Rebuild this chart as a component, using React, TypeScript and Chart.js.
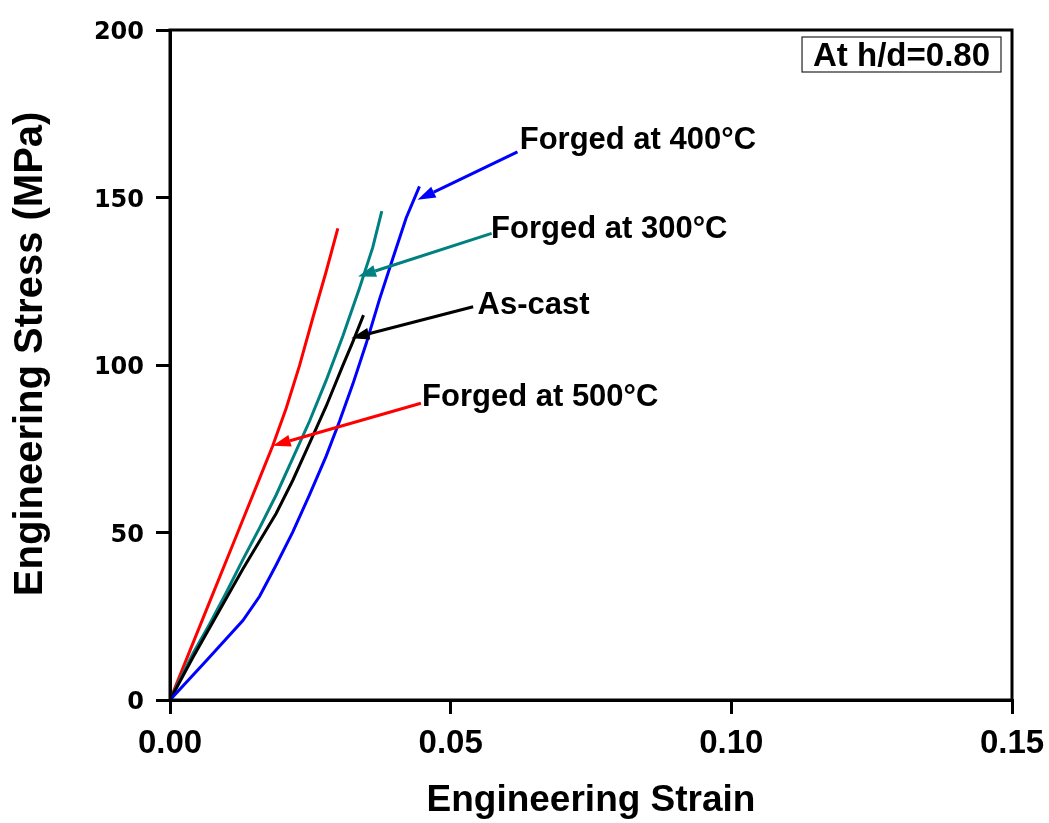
import React, { useEffect, useRef } from 'react';
import { Chart, registerables } from 'chart.js';

Chart.register(...registerables);

// ---- Data ----
const xTickValues = [0, 0.05, 0.1, 0.15];
const yTickValues = [0, 50, 100, 150, 200];

const forged500Strain = [0, 0.00407, 0.00704, 0.01001, 0.01298, 0.01594, 0.0183, 0.0207, 0.02307, 0.02545, 0.02782, 0.0299];
const forged500Stress = [0, 16.9, 29.2, 41.5, 53.8, 66.1, 75.9, 87.1, 99.8, 114.1, 127.9, 140.8];

const forged300Strain = [0, 0.00407, 0.00704, 0.01001, 0.01298, 0.01594, 0.01891, 0.02188, 0.02485, 0.02782, 0.03078, 0.03375, 0.03612, 0.03773];
const forged300Stress = [0, 13.8, 22.6, 32.0, 41.9, 51.3, 61.2, 72.2, 83.2, 95.4, 108.6, 122.9, 135.1, 145.9];

const asCastStrain = [0, 0.00407, 0.00704, 0.01001, 0.01298, 0.01594, 0.01891, 0.02188, 0.02485, 0.02782, 0.03078, 0.03257, 0.03447];
const asCastStress = [0, 12.7, 21.5, 30.3, 39.1, 47.4, 55.7, 65.6, 76.6, 87.7, 99.8, 106.9, 114.9];

const forged400Strain = [0, 0.0065, 0.01298, 0.01594, 0.01891, 0.02188, 0.02485, 0.02782, 0.0302, 0.03257, 0.03495, 0.03732, 0.03969, 0.04207, 0.04444];
const forged400Stress = [0, 11.8, 23.7, 30.9, 40.3, 50.2, 61.2, 72.8, 83.2, 94.3, 106.4, 119.6, 131.8, 143.9, 153.3];

// annotation labels: text, colour, label anchor (strain, stress), arrow start, arrow tip
const labelTexts = ['Forged at 400\u00B0C', 'Forged at 300\u00B0C', 'As-cast', 'Forged at 500\u00B0C'];
const labelColors = ['#0000FF', '#008080', '#000000', '#FF0000'];
const labelAnchorStrain = [0.0623, 0.0572, 0.0548, 0.0449];
const labelAnchorStress = [164.5, 137.9, 115.2, 87.8];
const arrowStartStrain = [0.0619, 0.0573, 0.054, 0.0447];
const arrowStartStress = [163.6, 139.3, 117.4, 88.6];
const arrowTipStrain = [0.0441, 0.0335, 0.0323, 0.0183];
const arrowTipStress = [149.3, 126.4, 108.0, 75.9];

const boxText = 'At h/d=0.80';

const FONT = "'Liberation Sans', Arial, sans-serif";
const WIDE_FONT = "'DejaVu Sans', Verdana, sans-serif";

function toPoints(xs: number[], ys: number[]) {
  return xs.map((v, i) => ({ x: v, y: ys[i] }));
}

const annotationPlugin = {
  id: 'annotationPlugin',
  afterDraw(chart: any) {
    const { ctx, chartArea, scales } = chart;
    const xs = scales.x;
    const ys = scales.y;
    ctx.save();
    // frame
    ctx.strokeStyle = '#000';
    ctx.lineWidth = 3;
    ctx.strokeRect(chartArea.left, chartArea.top, chartArea.right - chartArea.left, chartArea.bottom - chartArea.top);

    // arrows + labels
    for (let i = 0; i < labelTexts.length; i++) {
      const sx = xs.getPixelForValue(arrowStartStrain[i]);
      const sy = ys.getPixelForValue(arrowStartStress[i]);
      const tx = xs.getPixelForValue(arrowTipStrain[i]);
      const ty = ys.getPixelForValue(arrowTipStress[i]);
      const ang = Math.atan2(ty - sy, tx - sx);
      const headLen = 18;
      const headHalf = 6;
      const bx = tx - headLen * Math.cos(ang);
      const by = ty - headLen * Math.sin(ang);
      ctx.strokeStyle = labelColors[i];
      ctx.fillStyle = labelColors[i];
      ctx.lineWidth = 3;
      ctx.beginPath();
      ctx.moveTo(sx, sy);
      ctx.lineTo(bx, by);
      ctx.stroke();
      ctx.beginPath();
      ctx.moveTo(tx, ty);
      ctx.lineTo(bx + headHalf * Math.sin(ang), by - headHalf * Math.cos(ang));
      ctx.lineTo(bx - headHalf * Math.sin(ang), by + headHalf * Math.cos(ang));
      ctx.closePath();
      ctx.fill();

      ctx.fillStyle = '#000';
      ctx.font = `bold 31px ${FONT}`;
      ctx.textAlign = 'left';
      ctx.textBaseline = 'alphabetic';
      ctx.fillText(labelTexts[i], xs.getPixelForValue(labelAnchorStrain[i]), ys.getPixelForValue(labelAnchorStress[i]));
    }

    // boxed note in top-right corner
    ctx.font = `bold 33px ${FONT}`;
    const w = ctx.measureText(boxText).width;
    const boxRight = chartArea.right - 11;
    const boxTop = chartArea.top + 7;
    const boxW = w + 22;
    const boxH = 35;
    ctx.lineWidth = 1.2;
    ctx.strokeStyle = '#222';
    ctx.strokeRect(boxRight - boxW, boxTop, boxW, boxH);
    ctx.fillStyle = '#000';
    ctx.textAlign = 'left';
    ctx.textBaseline = 'alphabetic';
    ctx.fillText(boxText, boxRight - boxW + 11, boxTop + 29);
    ctx.restore();
  },
};

export default function App() {
  const canvasRef = useRef<HTMLCanvasElement | null>(null);

  useEffect(() => {
    if (!canvasRef.current) return;
    const lineDs = (label: string, color: string, xs: number[], ys: number[]) => ({
      label,
      data: toPoints(xs, ys),
      borderColor: color,
      backgroundColor: color,
      borderWidth: 3,
      pointRadius: 0,
      showLine: true,
      fill: false,
      tension: 0,
    });
    const chart = new Chart(canvasRef.current, {
      type: 'scatter',
      data: {
        datasets: [
          lineDs('Forged at 400\u00B0C', '#0000FF', forged400Strain, forged400Stress),
          lineDs('As-cast', '#000000', asCastStrain, asCastStress),
          lineDs('Forged at 300\u00B0C', '#008080', forged300Strain, forged300Stress),
          lineDs('Forged at 500\u00B0C', '#FF0000', forged500Strain, forged500Stress),
        ],
      },
      options: {
        animation: false,
        responsive: false,
        maintainAspectRatio: false,
        layout: { padding: { left: 0, top: 30, right: 37, bottom: 0 } },
        plugins: {
          legend: { display: false },
          tooltip: { enabled: false },
          title: { display: false },
        },
        scales: {
          x: {
            type: 'linear',
            min: 0,
            max: 0.15,
            afterBuildTicks: (s: any) => {
              s.ticks = xTickValues.map((v) => ({ value: v }));
            },
            afterFit: (s: any) => {
              s.height = 123;
              s.paddingLeft = 0;
              s.paddingRight = 0;
            },
            ticks: {
              color: '#000',
              font: { family: FONT, size: 33, weight: 'bold' },
              padding: 10,
              maxRotation: 0,
              callback: (v: any) => Number(v).toFixed(2),
            },
            grid: { display: true, drawOnChartArea: false, drawTicks: true, tickLength: 14, color: '#000', lineWidth: 3 },
            border: { display: true, color: '#000', width: 3 },
            title: {
              display: true,
              text: 'Engineering Strain',
              color: '#000',
              font: { family: FONT, size: 37, weight: 'bold' },
              padding: { top: 0, bottom: 0 },
            },
          },
          y: {
            type: 'linear',
            min: 0,
            max: 200,
            afterBuildTicks: (s: any) => {
              s.ticks = yTickValues.map((v) => ({ value: v }));
            },
            afterFit: (s: any) => {
              s.width = 170;
              s.paddingTop = 0;
              s.paddingBottom = 0;
            },
            ticks: {
              color: '#000',
              font: { family: WIDE_FONT, size: 24, weight: 'bold' },
              padding: 12,
              labelOffset: 3,
              callback: (v: any) => String(v),
            },
            grid: { display: true, drawOnChartArea: false, drawTicks: true, tickLength: 14, color: '#000', lineWidth: 3 },
            border: { display: true, color: '#000', width: 3 },
            title: {
              display: true,
              text: '  Engineering Stress (MPa)',
              color: '#000',
              font: { family: FONT, size: 40, weight: 'bold' },
              padding: { top: 7, bottom: 0 },
            },
          },
        },
      },
      plugins: [annotationPlugin],
    });
    return () => chart.destroy();
  }, []);

  return (
    <div style={{ position: 'absolute', left: 0, top: 0, width: 1049, height: 823, background: '#fff' }}>
      <canvas ref={canvasRef} width={1049} height={823} style={{ width: 1049, height: 823, display: 'block' }} />
    </div>
  );
}
